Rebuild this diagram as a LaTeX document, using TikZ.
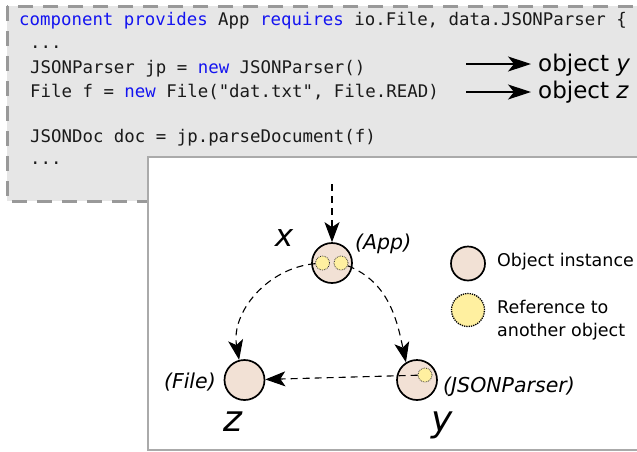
\documentclass[tikz,border=0pt]{standalone}
\usepackage{fontspec}
\setmainfont{DejaVu Sans}
\setmonofont{DejaVu Sans Mono}
\usetikzlibrary{arrows.meta}

\definecolor{boxgray}{HTML}{E6E6E6}
\definecolor{boxedge}{HTML}{999999}
\definecolor{panel}{HTML}{AAAAAA}
\definecolor{objfill}{HTML}{F2E1D5}
\definecolor{reffill}{HTML}{FFF0A0}
\definecolor{kw}{HTML}{1414F0}
\definecolor{ink}{HTML}{1A1A1A}

\newcommand{\kw}[1]{\textcolor{kw}{#1}}

\begin{document}
\begin{tikzpicture}[x=1pt,y=1pt,
  code/.style={anchor=base west, inner sep=0pt, text=ink,
    font=\fontsize{17.4}{20}\selectfont\ttfamily},
  obj/.style={circle, draw=black, line width=1.7pt, fill=objfill,
    minimum size=40pt, inner sep=0pt},
  ref/.style={circle, draw=black!80, densely dotted, line width=0.8pt,
    fill=reffill, minimum size=14pt, inner sep=0pt},
  dep/.style={dash pattern=on 7pt off 5pt, line width=1.1pt,
    -{Stealth[length=20pt,width=15pt,inset=5pt,sep=0pt]}},
  codearrow/.style={line width=1.2pt,
    -{Stealth[length=23pt,width=15pt,inset=6pt]}},
  lab/.style={inner sep=0pt, font=\fontsize{20.5}{24}\selectfont\itshape},
  big/.style={inner sep=0pt, anchor=base, font=\fontsize{36}{36}\selectfont\itshape},
  leg/.style={inner sep=0pt, anchor=west, align=left,
    font=\fontsize{17.5}{23}\selectfont}
]
\useasboundingbox (0,0) rectangle (637,-451);
\clip (0,0) rectangle (637,-451);

% source listing panel
\draw[fill=boxgray, draw=boxedge, line width=3pt, dash pattern=on 15pt off 10pt]
  (7,-6) rectangle (700,-201);

\node[code] (c1) at (19,-25)
  {\kw{component} \kw{provides} App \kw{requires} io.File, data.JSONParser \{};
\node[code] (c2) at (30,-48) {...};
\node[code] (c3) at (30,-73) {JSONParser jp = \kw{new} JSONParser()};
\node[code] (c4) at (30,-97) {File f = \kw{new} File("dat.txt", File.READ)};
\node[code] (c6) at (30,-142) {JSONDoc doc = jp.parseDocument(f)};
\node[code] (c7) at (30,-164) {...};

% instantiated objects
\node[anchor=base west, inner sep=0pt, font=\fontsize{23}{26}\selectfont]
  (oy) at (538,-71) {object \textit{y}};
\node[anchor=base west, inner sep=0pt, font=\fontsize{23}{26}\selectfont]
  (oz) at (538,-98) {object \textit{z}};
\coordinate (ay) at (466,-64);
\coordinate (az) at (466,-92);
\draw[codearrow, shorten >=7pt] (ay) -- (ay -| oy.west);
\draw[codearrow, shorten >=7pt] (az) -- (az -| oz.west);

% object graph panel
\draw[draw=panel, line width=1.5pt, fill=white] (148,-157) rectangle (700,-450);

\node[obj] (x) at (332,-263) {};
\node[ref] (xa) at (322.5,-263) {};
\node[ref] (xb) at (341,-263) {};
\node[obj] (y) at (417,-380) {};
\node[ref] (ya) at (425,-375) {};
\node[obj] (z) at (244.5,-380) {};

\coordinate (xin) at (332,-184);
\draw[dep] (xin) -- (x.north);
\draw[dep] (xa) to[out=185,in=100] (z.105);
\draw[dep] (xb) to[out=-22,in=102] (y.122);
\draw[dep] (ya) -- (z);

\node[lab, anchor=west] (appl) at (355,-244) {(App)};
\node[lab, anchor=east] (filel) at (216,-382) {(File)};
\node[lab, anchor=west] (jsonl) at (443,-387) {(JSONParser)};

\node[big, font=\fontsize{31}{31}\selectfont\itshape] (xl) at (284,-246) {x};
\node[big] (zl) at (233,-431) {z};
\node[big] (yl) at (442,-431) {y};

% legend
\node[obj, minimum size=34pt] (lobj) at (468,-263.5) {};
\node[ref, minimum size=33pt, line width=1.3pt, draw=black] (lref) at (468,-310) {};
\node[leg] (lobjt) at (497,-262) {Object instance};
\node[leg] (lreft) at (497,-320) {Reference to\\another object};
\end{tikzpicture}
\end{document}
